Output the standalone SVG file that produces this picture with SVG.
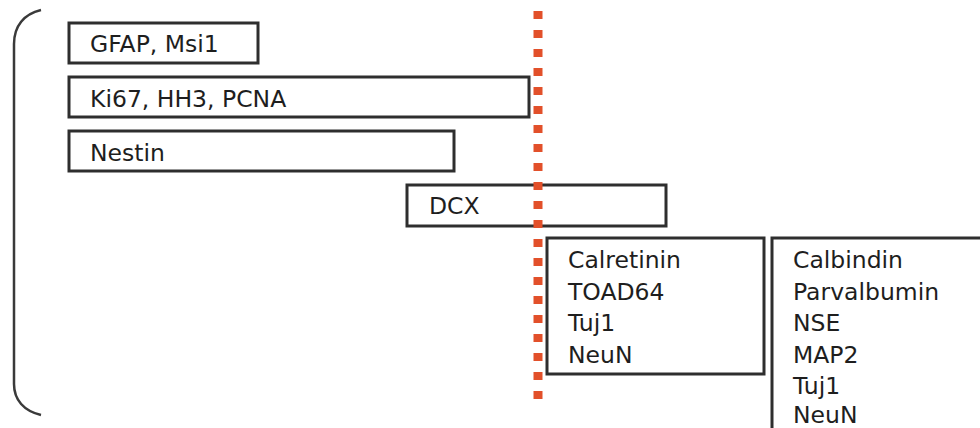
<svg xmlns="http://www.w3.org/2000/svg" width="980" height="428" viewBox="0 0 980 428">
  <style>
    .box { fill: #ffffff; stroke: #2e2e2e; stroke-width: 3; }
    .lbl { font-family: "DejaVu Sans", "Open Sans", sans-serif; font-size: 23.5px; fill: #1e1e1e; }
    .brace { fill: none; stroke: #3a3a3a; stroke-width: 2.5; }
    .divider { stroke: #e2502a; stroke-width: 9; stroke-dasharray: 8 11; }
  </style>
  <rect width="980" height="428" fill="#ffffff"/>

  <!-- left bracket -->
  <path class="brace" d="M41,10 C24,14 14,26 14,44 L14,384 C14,400 24,411 41,415"/>

  <g id="gfap">
    <rect class="box" x="69" y="23" width="189" height="40"/>
    <text class="lbl" x="90" y="52">GFAP, Msi1</text>
  </g>
  <g id="ki67">
    <rect class="box" x="69" y="77" width="460" height="40"/>
    <text class="lbl" x="90" y="107">Ki67, HH3, PCNA</text>
  </g>
  <g id="nestin">
    <rect class="box" x="69" y="131" width="385" height="40"/>
    <text class="lbl" x="90" y="161">Nestin</text>
  </g>
  <g id="dcx">
    <rect class="box" x="407" y="185" width="259" height="41"/>
    <text class="lbl" x="429" y="214">DCX</text>
  </g>

  <!-- dotted divider -->
  <g id="connectors">
    <line class="divider" x1="538" y1="-8" x2="538" y2="400"/>
  </g>

  <g id="immature">
    <rect class="box" x="547" y="238" width="217" height="136"/>
    <text class="lbl" x="568" y="268">Calretinin</text>
    <text class="lbl" x="568" y="300">TOAD64</text>
    <text class="lbl" x="568" y="331">Tuj1</text>
    <text class="lbl" x="568" y="363">NeuN</text>
  </g>
  <g id="mature">
    <rect class="box" x="772" y="238" width="300" height="300"/>
    <text class="lbl" x="793" y="268">Calbindin</text>
    <text class="lbl" x="793" y="300">Parvalbumin</text>
    <text class="lbl" x="793" y="331">NSE</text>
    <text class="lbl" x="793" y="363">MAP2</text>
    <text class="lbl" x="793" y="394">Tuj1</text>
    <text class="lbl" x="793" y="423">NeuN</text>
  </g>
</svg>
